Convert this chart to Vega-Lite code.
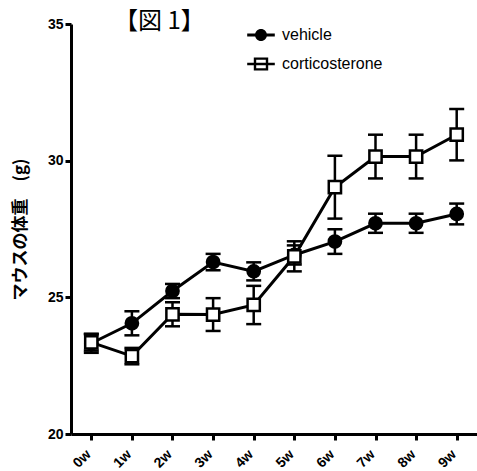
{
  "$schema": "https://vega.github.io/schema/vega-lite/v6.json",
  "width": 406,
  "height": 410,
  "autosize": {"type": "none"},
  "padding": {"left": 71, "top": 24, "right": 0, "bottom": 37},
  "background": "white",
  "title": {"text": "【図 1】", "font": "Noto Sans CJK JP", "fontSize": 24, "fontWeight": "normal", "color": "black", "anchor": "start", "frame": "group", "dx": 43, "dy": 17, "offset": 0},
  "data": {"values": [
    {"week": "0w", "group": "vehicle", "mean": 23.32, "sem": 0.35},
    {"week": "1w", "group": "vehicle", "mean": 24.05, "sem": 0.44},
    {"week": "2w", "group": "vehicle", "mean": 25.23, "sem": 0.26},
    {"week": "3w", "group": "vehicle", "mean": 26.29, "sem": 0.3},
    {"week": "4w", "group": "vehicle", "mean": 25.95, "sem": 0.33},
    {"week": "5w", "group": "vehicle", "mean": 26.55, "sem": 0.35},
    {"week": "6w", "group": "vehicle", "mean": 27.04, "sem": 0.45},
    {"week": "7w", "group": "vehicle", "mean": 27.71, "sem": 0.35},
    {"week": "8w", "group": "vehicle", "mean": 27.71, "sem": 0.35},
    {"week": "9w", "group": "vehicle", "mean": 28.05, "sem": 0.38},
    {"week": "0w", "group": "corticosterone", "mean": 23.35, "sem": 0.3},
    {"week": "1w", "group": "corticosterone", "mean": 22.85, "sem": 0.3},
    {"week": "2w", "group": "corticosterone", "mean": 24.38, "sem": 0.44},
    {"week": "3w", "group": "corticosterone", "mean": 24.37, "sem": 0.6},
    {"week": "4w", "group": "corticosterone", "mean": 24.72, "sem": 0.7},
    {"week": "5w", "group": "corticosterone", "mean": 26.5, "sem": 0.55},
    {"week": "6w", "group": "corticosterone", "mean": 29.03, "sem": 1.15},
    {"week": "7w", "group": "corticosterone", "mean": 30.15, "sem": 0.8},
    {"week": "8w", "group": "corticosterone", "mean": 30.15, "sem": 0.8},
    {"week": "9w", "group": "corticosterone", "mean": 30.95, "sem": 0.94}
  ]},
  "encoding": {
    "x": {"field": "week", "type": "ordinal", "scale": {"type": "point", "padding": 0.5},
      "axis": {"title": null, "labelAngle": -45, "labelAlign": "right", "labelBaseline": "middle", "labelOffset": -3, "labelFont": "Liberation Sans", "labelFontWeight": "bold", "labelFontSize": 14, "labelColor": "black", "domainWidth": 3, "domainColor": "black", "tickWidth": 3, "tickColor": "black", "tickSize": 6, "labelPadding": 12}},
    "y": {"field": "mean", "type": "quantitative", "scale": {"domain": [20, 35], "nice": false, "zero": false},
      "axis": {"title": "マウスの体重　(g)", "values": [20, 25, 30, 35], "grid": false, "titleFont": "Noto Sans CJK JP", "titleFontWeight": "bold", "titleFontSize": 17, "titleColor": "black", "titlePadding": 18, "labelFont": "Liberation Sans", "labelFontWeight": "bold", "labelFontSize": 14, "labelColor": "black", "domainWidth": 3, "domainColor": "black", "tickWidth": 3, "tickColor": "black", "tickSize": 6, "labelPadding": 2}}
  },
  "layer": [
    {
      "mark": {"type": "errorbar", "ticks": {"size": 15, "thickness": 2.5, "opacity": 1, "color": "black"}, "rule": {"opacity": 1, "color": "black"}, "thickness": 2.5, "color": "black", "opacity": 1},
      "encoding": {"yError": {"field": "sem"}, "detail": {"field": "group"}}
    },
    {
      "mark": {"type": "line", "color": "black", "strokeWidth": 3},
      "encoding": {"detail": {"field": "group"}}
    },
    {
      "mark": {"type": "point", "filled": false, "stroke": "black", "strokeWidth": 2.5, "size": 150, "opacity": 1},
      "encoding": {
        "shape": {"field": "group", "type": "nominal", "scale": {"domain": ["vehicle", "corticosterone"], "range": ["circle", "square"]}, "legend": null},
        "fill": {"field": "group", "type": "nominal", "scale": {"domain": ["vehicle", "corticosterone"], "range": ["black", "white"]}, "legend": null}
      }
    },
    {
      "transform": [{"filter": {"field": "group", "equal": "none"}}],
      "mark": {"type": "point", "filled": true, "color": "black", "opacity": 1},
      "encoding": {
        "shape": {"field": "group", "type": "nominal", "scale": {"domain": ["vehicle", "corticosterone"], "range": ["M-2.3,-0.25H2.3V0.25H-2.3ZM-1,0A1,1 0 1,1 1,0A1,1 0 1,1 -1,0Z", "M-1.2,-1.1H1.2V1.1H-1.2ZM-0.8,-0.7V0.7H0.8V-0.7ZM-2.3,-0.22H2.3V0.22H-2.3Z"]},
          "legend": {"title": null, "orient": "none", "legendX": 182, "legendY": 3, "padding": 0, "symbolSize": 144, "symbolStrokeWidth": 0, "symbolFillColor": "black", "symbolOpacity": 1, "labelOffset": 13, "labelFont": "Liberation Sans", "labelFontSize": 16, "labelColor": "black", "rowPadding": 13}}
      }
    }
  ],
  "resolve": {"scale": {"shape": "independent", "fill": "independent"}},
  "config": {"view": {"stroke": null}, "axis": {"grid": false}}
}
